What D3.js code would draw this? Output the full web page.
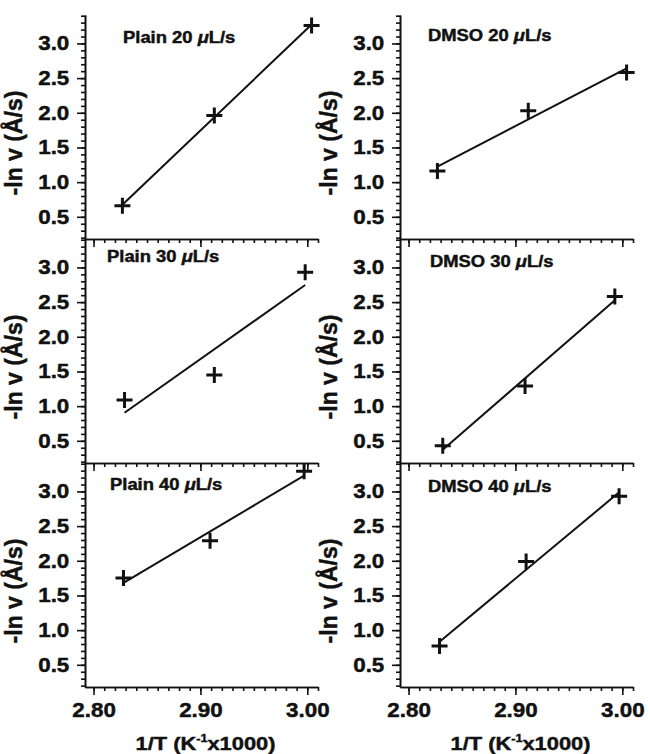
<!DOCTYPE html>
<html>
<head>
<meta charset="utf-8">
<script src="https://cdn.jsdelivr.net/npm/d3@7"></script>
<style>
  body { margin: 0; background: #fff; }
  text { font-family: "Liberation Sans", Arial, sans-serif; font-weight: bold; fill: #111; stroke: #111; stroke-width: 0.45px; }
</style>
</head>
<body>
<div id="chart"></div>
<script>
// 1/T (K^-1 x1000) and -ln v (Å/s), one pair per panel
const plain20X = [2.827, 2.913, 3.004];
const plain20Y = [0.66, 1.96, 3.26];
const plain30X = [2.829, 2.913, 2.998];
const plain30Y = [1.09, 1.45, 2.93];
const plain40X = [2.828, 2.909, 2.997];
const plain40Y = [1.75, 2.29, 3.29];
const dmso20X = [2.827, 2.912, 3.004];
const dmso20Y = [1.16, 2.03, 2.58];
const dmso30X = [2.832, 2.909, 2.993];
const dmso30Y = [0.43, 1.29, 2.58];
const dmso40X = [2.829, 2.910, 2.997];
const dmso40Y = [0.77, 1.99, 2.93];

const panelNames = ['Plain 20', 'Plain 30', 'Plain 40', 'DMSO 20', 'DMSO 30', 'DMSO 40'];
const xTickLabels = [2.80, 2.90, 3.00];
const yTickLabels = [0.5, 1.0, 1.5, 2.0, 2.5, 3.0];

const series = [
  [plain20X, plain20Y], [plain30X, plain30Y], [plain40X, plain40Y],
  [dmso20X, dmso20Y], [dmso30X, dmso30Y], [dmso40X, dmso40Y]
];

const width = 650, height = 754;
const colLeft = [85, 400];
const rowTop = [15, 239, 463];
const panelW = 233, panelH = 224;
const sx = 1.12; // the original lettering is a bit wide

// title offset from panel corner
const titleOffset = [[38, 28], [22, 23], [25, 27], [28, 26], [30, 28], [28, 29]];

const svg = d3.select('#chart')
  .append('svg')
  .attr('width', width)
  .attr('height', height);

function fit(xs, ys) {
  const mx = d3.mean(xs), my = d3.mean(ys);
  let sxy = 0, sxx = 0;
  xs.forEach((x, i) => {
    sxy += (x - mx) * (ys[i] - my);
    sxx += (x - mx) * (x - mx);
  });
  const slope = sxy / sxx;
  return x => my + slope * (x - mx);
}

function stretch(sel, size) {
  sel.selectAll('text')
    .attr('font-size', size)
    .attr('transform', 'scale(' + sx + ',1)');
}

function darken(a) {
  a.selectAll('line,path').attr('stroke', '#111').attr('stroke-width', 1.6);
}

series.forEach(function (s, i) {
  const col = Math.floor(i / 3), row = i % 3;
  const left = colLeft[col], top = rowTop[row];

  const x = d3.scaleLinear().domain([2.792, 3.010]).range([left, left + panelW]);
  const y = d3.scaleLinear().domain([0.18, 3.41]).range([top + panelH, top]);

  const g = svg.append('g').attr('class', 'panel-' + i);

  // y axis: minor then major ticks
  g.append('g')
    .attr('transform', 'translate(' + left + ',0)')
    .call(d3.axisLeft(y).tickValues(d3.range(2, 35).map(d => d / 10)).tickSize(4).tickSizeOuter(0).tickFormat(''))
    .call(darken);
  const ya = g.append('g')
    .attr('transform', 'translate(' + left + ',0)')
    .call(d3.axisLeft(y).tickValues(yTickLabels).tickSize(8).tickPadding(6).tickSizeOuter(0).tickFormat(d3.format('.1f')))
    .call(darken);
  ya.attr('font-family', null);
  stretch(ya, 20);

  // x axis
  g.append('g')
    .attr('transform', 'translate(0,' + (top + panelH) + ')')
    .call(d3.axisBottom(x).tickValues(d3.range(280, 302).map(d => d / 100)).tickSize(4).tickSizeOuter(0).tickFormat(''))
    .call(darken);
  const xa = g.append('g')
    .attr('transform', 'translate(0,' + (top + panelH) + ')')
    .call(d3.axisBottom(x).tickValues(xTickLabels).tickSize(8).tickPadding(8).tickSizeOuter(0)
      .tickFormat(row === 2 ? d3.format('.2f') : ''))
    .call(darken);
  xa.attr('font-family', null);
  stretch(xa, 20);

  // fit line
  const f = fit(s[0], s[1]);
  const x0 = d3.min(s[0]), x1 = d3.max(s[0]);
  g.append('line')
    .attr('x1', x(x0)).attr('y1', y(f(x0)))
    .attr('x2', x(x1)).attr('y2', y(f(x1)))
    .attr('stroke', '#111')
    .attr('stroke-width', 2);

  // plus markers
  g.selectAll('path.pt')
    .data(s[0].map((v, k) => [v, s[1][k]]))
    .enter()
    .append('path')
    .attr('class', 'pt')
    .attr('d', 'M-8,0H8M0,-8V8')
    .attr('transform', d => 'translate(' + x(d[0]) + ',' + y(d[1]) + ')')
    .attr('stroke', '#111')
    .attr('stroke-width', 3);

  // panel title
  const t = g.append('text')
    .attr('font-size', 16)
    .attr('transform', 'translate(' + (left + titleOffset[i][0]) + ',' + (top + titleOffset[i][1]) + ') scale(' + (sx + 0.03) + ',1)');
  t.append('tspan').text(panelNames[i] + ' ');
  t.append('tspan').attr('font-style', 'italic').text('\u03bc');
  t.append('tspan').text('L/s');

  // y label
  g.append('text')
    .attr('font-size', 23)
    .attr('text-anchor', 'middle')
    .attr('transform', 'translate(' + (left - 63) + ',' + (top + 128) + ') rotate(-90)')
    .text('-ln v (\u00c5/s)');

  // x label under bottom row
  if (row === 2) {
    const xl = g.append('text')
      .attr('font-size', 19)
      .attr('text-anchor', 'middle')
      .attr('transform', 'translate(' + (left + panelW / 2 + 4) + ',750) scale(' + (sx + 0.03) + ',1)');
    xl.append('tspan').text('1/T (K');
    xl.append('tspan').attr('font-size', 11).attr('dy', -8).text('-1');
    xl.append('tspan').attr('dy', 8).text('x1000)');
  }
});
</script>
</body>
</html>
